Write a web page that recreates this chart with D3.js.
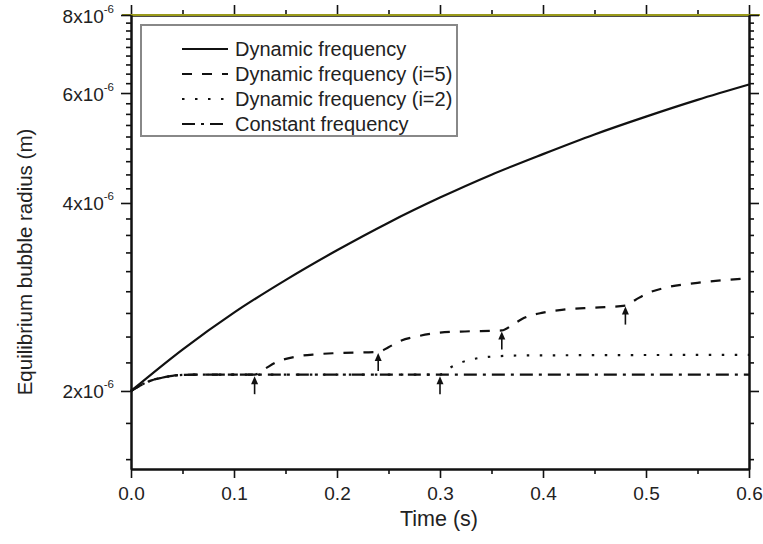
<!DOCTYPE html>
<html>
<head>
<meta charset="utf-8">
<script src="https://cdn.jsdelivr.net/npm/d3@7"></script>
<style>
  body { margin: 0; background: #fff; }
  text { font-family: "Liberation Sans", Arial, sans-serif; fill: #222; }
</style>
</head>
<body>
<div id="graph"></div>
<script>
// time (s) and radius (x1e-6 m)
var dynT = [0, 0.05, 0.1, 0.15, 0.2, 0.25, 0.3, 0.35, 0.4, 0.45, 0.5, 0.55, 0.6];
var dynV = [2.0, 2.33, 2.67, 3.01, 3.36, 3.72, 4.08, 4.44, 4.79, 5.15, 5.50, 5.85, 6.19];

var i5T = [0, 0.01, 0.02, 0.03, 0.04, 0.05, 0.07, 0.12, 0.13, 0.14, 0.16, 0.18, 0.20, 0.24, 0.25, 0.26, 0.28, 0.30, 0.32, 0.36, 0.37, 0.38, 0.40, 0.42, 0.45, 0.48, 0.49, 0.50, 0.52, 0.55, 0.60];
var i5V = [2.0, 2.045, 2.08, 2.10, 2.115, 2.122, 2.125, 2.125, 2.17, 2.22, 2.27, 2.29, 2.30, 2.31, 2.35, 2.40, 2.45, 2.48, 2.49, 2.50, 2.55, 2.61, 2.67, 2.70, 2.72, 2.74, 2.80, 2.86, 2.93, 2.98, 3.03];

var i2T = [0, 0.01, 0.02, 0.03, 0.04, 0.05, 0.07, 0.30, 0.31, 0.32, 0.33, 0.35, 0.38, 0.60];
var i2V = [2.0, 2.045, 2.08, 2.10, 2.115, 2.122, 2.125, 2.125, 2.18, 2.22, 2.245, 2.27, 2.28, 2.285];

var constT = [0, 0.01, 0.02, 0.03, 0.04, 0.05, 0.07, 0.60];
var constV = [2.0, 2.045, 2.08, 2.10, 2.115, 2.122, 2.125, 2.125];

// arrows mark where a new step starts
var arrowT = [0.12, 0.24, 0.30, 0.36, 0.48];
var arrowV = [2.12, 2.31, 2.12, 2.50, 2.74];

var xTicks = [0, 0.1, 0.2, 0.3, 0.4, 0.5, 0.6];
var yTicks = [2, 4, 6, 8];
var legendNames = ["Dynamic frequency", "Dynamic frequency (i=5)", "Dynamic frequency (i=2)", "Constant frequency"];

var series = [
  {t: dynT, v: dynV, dash: null},
  {t: i5T, v: i5V, dash: "10,10"},
  {t: i2T, v: i2V, dash: "2.5,10.5"},
  {t: constT, v: constV, dash: "13,6,3,6"}
];

var W = 763, H = 544;
var margin = {top: 15, right: 14, bottom: 75, left: 131};
var width = W - margin.left - margin.right,
    height = H - margin.top - margin.bottom;

var x = d3.scaleLinear().domain([0, 0.6]).range([0, width]);
var y = d3.scaleLog().domain([1.5e-6, 8e-6]).range([height, 0]);

var svg = d3.select("#graph").append("svg")
    .attr("width", W).attr("height", H)
  .append("g")
    .attr("transform", "translate(" + margin.left + "," + margin.top + ")");

// minor ticks: 8 between each major, also below 2e-6
var xMinor = d3.range(0.05, 0.6, 0.1);
var yMinor = [];
d3.range(-2, 28).forEach(function(k) {
  if (k % 9 !== 0) yMinor.push((2 + k * 2 / 9) * 1e-6);
});
var yMajor = yTicks.map(function(d) { return d * 1e-6; });

function styleAxis(g) {
  g.select(".domain").attr("stroke", "#111").attr("stroke-width", 2);
  g.selectAll(".tick line").attr("stroke", "#111").attr("stroke-width", 1.6);
}

// bottom
svg.append("g").attr("transform", "translate(0," + height + ")")
  .call(d3.axisBottom(x).tickValues(xMinor).tickSize(5).tickFormat("").tickSizeOuter(0))
  .call(styleAxis);
var xb = svg.append("g").attr("transform", "translate(0," + height + ")")
  .call(d3.axisBottom(x).tickValues(xTicks).tickSize(9).tickFormat(d3.format(".1f")).tickSizeOuter(0))
  .call(styleAxis);
xb.selectAll("text").attr("y", 31).attr("dy", 0).style("font-size", "19px").attr("fill", "#222");

// top (olive line)
svg.append("g")
  .call(d3.axisTop(x).tickValues(xMinor).tickSize(5).tickFormat("").tickSizeOuter(0))
  .call(styleAxis);
svg.append("g")
  .call(d3.axisTop(x).tickValues(xTicks).tickSize(10).tickFormat("").tickSizeOuter(0))
  .call(styleAxis);
svg.append("line").attr("x1", -9).attr("x2", width + 11).attr("y1", 0).attr("y2", 0)
  .attr("stroke", "#9a9a1a").attr("stroke-width", 2);

// left
svg.append("g")
  .call(d3.axisLeft(y).tickValues(yMinor).tickSize(5).tickFormat("").tickSizeOuter(0))
  .call(styleAxis);
var yl = svg.append("g")
  .call(d3.axisLeft(y).tickValues(yMajor).tickSize(10).tickSizeOuter(0))
  .call(styleAxis);
yl.selectAll(".tick text").each(function(d, i) {
  var t = d3.select(this).text(null)
    .attr("x", -17).attr("dy", 0).attr("y", 7)
    .style("font-size", "19px").attr("fill", "#222");
  t.append("tspan").text(yTicks[i] + "x10");
  t.append("tspan").attr("dy", -10).style("font-size", "11.5px").text("-6");
});

// right
svg.append("g").attr("transform", "translate(" + width + ",0)")
  .call(d3.axisRight(y).tickValues(yMinor).tickSize(5).tickFormat("").tickSizeOuter(0))
  .call(styleAxis);
svg.append("g").attr("transform", "translate(" + width + ",0)")
  .call(d3.axisRight(y).tickValues(yMajor).tickSize(10).tickFormat("").tickSizeOuter(0))
  .call(styleAxis);

// curves
var line = d3.line()
  .x(function(d) { return x(d[0]); })
  .y(function(d) { return y(d[1] * 1e-6); })
  .curve(d3.curveMonotoneX);

series.slice().reverse().forEach(function(s) {
  svg.append("path")
    .datum(s.t.map(function(t, i) { return [t, s.v[i]]; }))
    .attr("fill", "none")
    .attr("stroke", "#111")
    .attr("stroke-width", 2.2)
    .attr("stroke-dasharray", s.dash)
    .attr("d", line);
});

// arrows
arrowT.forEach(function(t, i) {
  var ax = x(t), ay = y(arrowV[i] * 1e-6) + 1;
  svg.append("line").attr("x1", ax).attr("x2", ax).attr("y1", ay + 6).attr("y2", ay + 18)
    .attr("stroke", "#111").attr("stroke-width", 1.6);
  svg.append("path")
    .attr("d", "M" + ax + "," + ay + "L" + (ax - 3.5) + "," + (ay + 8) + "L" + (ax + 3.5) + "," + (ay + 8) + "Z")
    .attr("fill", "#111");
});

// legend
var lg = svg.append("g").attr("transform", "translate(" + (141 - margin.left) + "," + (25 - margin.top) + ")");
lg.append("rect").attr("width", 316).attr("height", 111)
  .attr("fill", "#fff").attr("stroke", "#888").attr("stroke-width", 2);
legendNames.forEach(function(name, i) {
  var ly = 24 + i * 25;
  lg.append("line").attr("x1", 41).attr("x2", 87).attr("y1", ly).attr("y2", ly)
    .attr("stroke", "#111").attr("stroke-width", 2.2)
    .attr("stroke-dasharray", series[i].dash);
  lg.append("text").attr("x", 94).attr("y", ly + 7)
    .style("font-size", "20px").text(name);
});

// axis titles
svg.append("text")
  .attr("x", width / 2 - 1).attr("y", height + 57)
  .style("text-anchor", "middle").style("font-size", "21.5px")
  .text("Time (s)");

svg.append("text")
  .attr("transform", "rotate(-90)")
  .attr("x", 0 - 247).attr("y", 32 - margin.left)
  .style("text-anchor", "middle").style("font-size", "20.5px")
  .text("Equilibrium bubble radius (m)");
</script>
</body>
</html>
